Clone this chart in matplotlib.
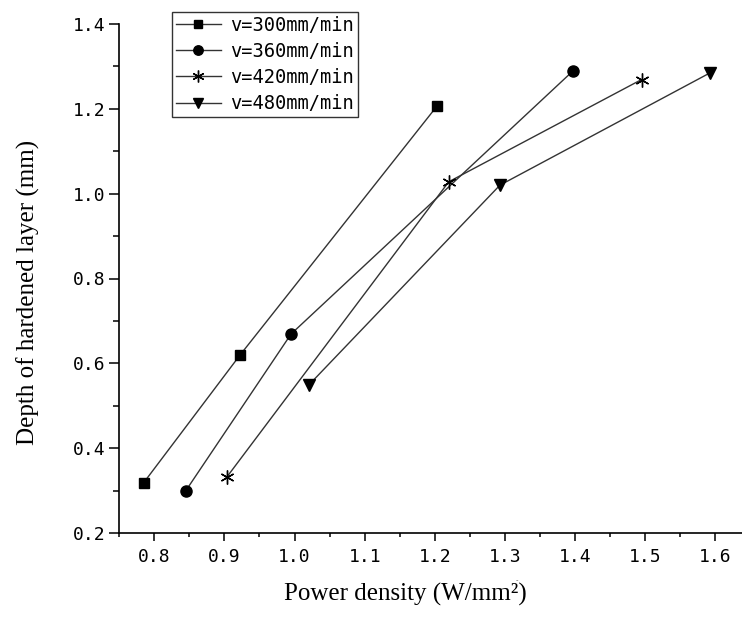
import matplotlib
matplotlib.use("Agg")
import matplotlib.pyplot as plt
from matplotlib.ticker import MultipleLocator

# Data
labels = ["v=300mm/min", "v=360mm/min", "v=420mm/min", "v=480mm/min"]
x_300 = [0.785, 0.922, 1.203]
y_300 = [0.319, 0.619, 1.206]
x_360 = [0.845, 0.995, 1.397]
y_360 = [0.300, 0.669, 1.289]
x_420 = [0.903, 1.220, 1.495]
y_420 = [0.331, 1.028, 1.269]
x_480 = [1.021, 1.293, 1.593]
y_480 = [0.550, 1.020, 1.285]

xticks = [0.8, 0.9, 1.0, 1.1, 1.2, 1.3, 1.4, 1.5, 1.6]
yticks = [0.2, 0.4, 0.6, 0.8, 1.0, 1.2, 1.4]

W, H = 742, 635
fig = plt.figure(figsize=(W / 100, H / 100), dpi=100)
ax = fig.add_axes([119.3 / W, 1 - 533 / H, (W - 119.3) / W, (533 - 24) / H])

line_kw = dict(color="#333333", linewidth=1.0, markerfacecolor="black",
               markeredgecolor="black")
series = [
    (x_300, y_300, "s", 7.5, labels[0]),
    (x_360, y_360, "o", 8.0, labels[1]),
    (x_420, y_420, (6, 2, 0), 10.0, labels[2]),
    (x_480, y_480, "v", 9.0, labels[3]),
]
handles = []
for xs, ys, mk, ms, lab in series:
    h, = ax.plot(xs, ys, marker=mk, markersize=ms, label=lab, **line_kw)
    handles.append(h)

ax.set_xlim(0.75, 0.8 + (W - 154.3) / 701)
ax.set_ylim(0.2, 1.4)
ax.set_xticks(xticks)
ax.set_yticks(yticks)
ax.xaxis.set_minor_locator(MultipleLocator(0.05))
ax.yaxis.set_minor_locator(MultipleLocator(0.1))

tick_font = dict(family="DejaVu Sans Mono", size=13)
ax.set_xticklabels([f"{t:.1f}" for t in xticks], **tick_font)
ax.set_yticklabels([f"{t:.1f}" for t in yticks], **tick_font)

for s in ["top", "right"]:
    ax.spines[s].set_visible(False)
for s in ["left", "bottom"]:
    ax.spines[s].set_linewidth(1.2)
ax.tick_params(axis="y", which="major", direction="out", length=7, width=1.1, pad=3)
ax.tick_params(axis="y", which="minor", direction="out", length=4.5, width=1.1)
ax.tick_params(axis="x", which="major", direction="out", length=6, width=1.1, pad=5)
ax.tick_params(axis="x", which="minor", direction="out", length=3, width=1.1)

label_font = dict(family="Liberation Serif", size=18)
fig.text(405 / W, 1 - 594 / H, "Power density (W/mm²)",
         ha="center", va="center", **label_font)
fig.text(28 / W, 1 - 292 / H, "Depth of hardened layer (mm)", rotation=90,
         ha="center", va="center", **label_font)
fig.text(517 / W, 1 - 580 / H, "-", ha="center", va="center", fontsize=5,
         color="#555555")

leg = fig.legend(handles=handles, loc="upper left",
                 bbox_to_anchor=(172 / W, 1 - 12 / H), borderaxespad=0,
                 prop=dict(family="DejaVu Sans Mono", size=13.5),
                 frameon=True, fancybox=False, edgecolor="black",
                 handlelength=2.4, handletextpad=0.5, labelspacing=0.38,
                 borderpad=0.2, markerscale=0.85)
leg.get_frame().set_linewidth(1.0)

fig.savefig("out.png", dpi=100)
